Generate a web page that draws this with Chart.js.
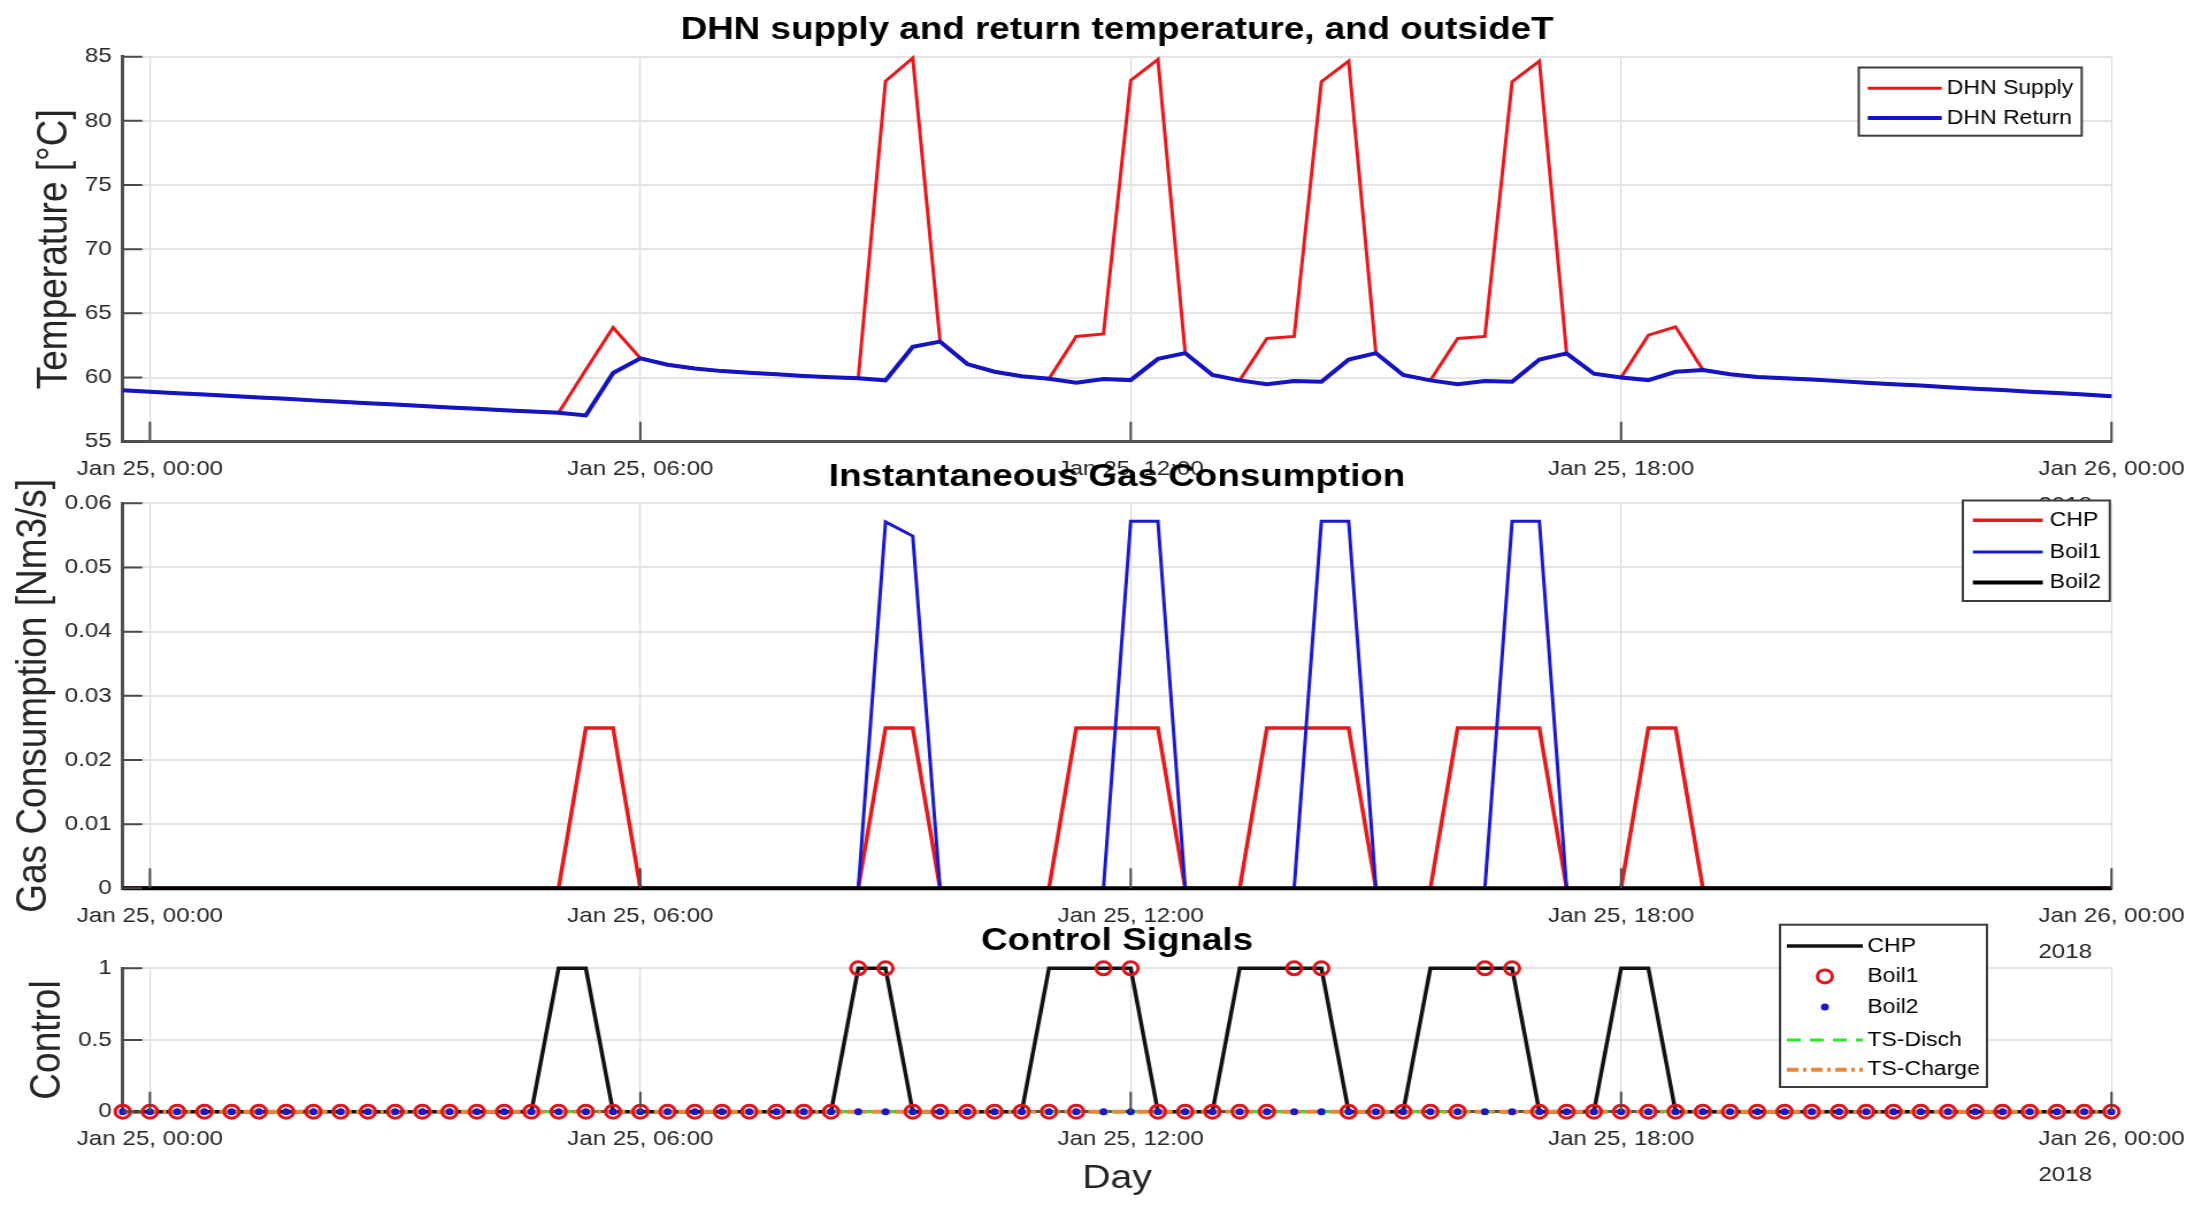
<!DOCTYPE html>
<html>
<head>
<meta charset="utf-8">
<title>DHN supply and return temperature</title>
<script src="https://cdn.jsdelivr.net/npm/chart.js@4.4.1/dist/chart.umd.min.js"></script>
<style>
  html, body { margin: 0; padding: 0; background: #fff; overflow: hidden; }
  #wrap { position: relative; width: 2202px; height: 1205px; overflow: hidden; }
  /* the source picture is stretched sideways, so the charts are drawn narrow and widened */
  #wrap canvas { position: absolute; left: 0; top: 0; transform-origin: 0 0; transform: scaleX(1.14987); }
</style>
</head>
<body>
<div id="wrap">
  <canvas id="tempChart" width="1915" height="1205"></canvas>
  <canvas id="gasChart" width="1915" height="1205"></canvas>
  <canvas id="ctrlChart" width="1915" height="1205"></canvas>
</div>
<script>
// sample times, minutes after Jan 25 00:00 (20 min steps)
const sampleMinutes = [
  -20, 0, 20, 40, 60, 80, 100, 120, 140, 160,
  180, 200, 220, 240, 260, 280, 300, 320, 340, 360,
  380, 400, 420, 440, 460, 480, 500, 520, 540, 560,
  580, 600, 620, 640, 660, 680, 700, 720, 740, 760,
  780, 800, 820, 840, 860, 880, 900, 920, 940, 960,
  980, 1000, 1020, 1040, 1060, 1080, 1100, 1120, 1140, 1160,
  1180, 1200, 1220, 1240, 1260, 1280, 1300, 1320, 1340, 1360,
  1380, 1400, 1420, 1440
];

const tickHours = [0, 6, 12, 18, 24];
const tickLabels = ["Jan 25, 00:00", "Jan 25, 06:00", "Jan 25, 12:00", "Jan 25, 18:00", "Jan 26, 00:00"];
const yearText = "2018";

// DHN temperatures [°C]
const supplyT = [
  59.0, 58.9, 58.78, 58.67, 58.56, 58.45, 58.34, 58.22, 58.11, 58.0,
  57.89, 57.78, 57.67, 57.56, 57.45, 57.35, 57.25, 60.6, 63.9, 61.5,
  61.0, 60.7, 60.5, 60.38, 60.25, 60.12, 60.02, 59.95, 83.1, 84.9,
  62.85, 61.05, 60.45, 60.1, 59.9, 63.2, 63.4, 83.15, 84.8, 61.9,
  60.2, 59.78, 63.05, 63.2, 83.05, 84.65, 61.9, 60.2, 59.78, 63.05,
  63.2, 83.05, 84.65, 61.88, 60.3, 60.0, 63.3, 63.95, 60.6, 60.25,
  60.05, 59.95, 59.85, 59.72, 59.6, 59.48, 59.37, 59.25, 59.13, 59.02,
  58.9, 58.79, 58.67, 58.55
];
const returnT = [
  59.0, 58.9, 58.78, 58.67, 58.56, 58.45, 58.34, 58.22, 58.11, 58.0,
  57.89, 57.78, 57.67, 57.56, 57.45, 57.35, 57.25, 57.05, 60.35, 61.5,
  61.0, 60.7, 60.5, 60.38, 60.25, 60.12, 60.02, 59.95, 59.78, 62.4,
  62.8, 61.05, 60.45, 60.1, 59.9, 59.6, 59.88, 59.8, 61.45, 61.9,
  60.2, 59.78, 59.47, 59.73, 59.68, 61.4, 61.9, 60.2, 59.78, 59.47,
  59.73, 59.68, 61.4, 61.88, 60.3, 60.0, 59.8, 60.45, 60.58, 60.25,
  60.05, 59.95, 59.85, 59.72, 59.6, 59.48, 59.37, 59.25, 59.13, 59.02,
  58.9, 58.79, 58.67, 58.55
];

// gas consumption [Nm3/s]
const gasCHP = [
  0, 0, 0, 0, 0, 0, 0, 0, 0, 0,
  0, 0, 0, 0, 0, 0, 0, 0.025, 0.025, 0,
  0, 0, 0, 0, 0, 0, 0, 0, 0.025, 0.025,
  0, 0, 0, 0, 0, 0.025, 0.025, 0.025, 0.025, 0,
  0, 0, 0.025, 0.025, 0.025, 0.025, 0, 0, 0, 0.025,
  0.025, 0.025, 0.025, 0, 0, 0, 0.025, 0.025, 0, 0,
  0, 0, 0, 0, 0, 0, 0, 0, 0, 0,
  0, 0, 0, 0
];
const gasBoil1 = [
  0, 0, 0, 0, 0, 0, 0, 0, 0, 0,
  0, 0, 0, 0, 0, 0, 0, 0, 0, 0,
  0, 0, 0, 0, 0, 0, 0, 0, 0.0571, 0.0549,
  0, 0, 0, 0, 0, 0, 0, 0.0572, 0.0572, 0,
  0, 0, 0, 0, 0.0572, 0.0572, 0, 0, 0, 0,
  0, 0.0572, 0.0572, 0, 0, 0, 0, 0, 0, 0,
  0, 0, 0, 0, 0, 0, 0, 0, 0, 0,
  0, 0, 0, 0
];
const gasBoil2 = [
  0, 0, 0, 0, 0, 0, 0, 0, 0, 0, 0, 0, 0, 0, 0, 0, 0, 0, 0, 0,
  0, 0, 0, 0, 0, 0, 0, 0, 0, 0, 0, 0, 0, 0, 0, 0, 0, 0, 0, 0,
  0, 0, 0, 0, 0, 0, 0, 0, 0, 0, 0, 0, 0, 0, 0, 0, 0, 0, 0, 0,
  0, 0, 0, 0, 0, 0, 0, 0, 0, 0, 0, 0, 0, 0
];

// control signals
const ctrlCHP = [
  0, 0, 0, 0, 0, 0, 0, 0, 0, 0,
  0, 0, 0, 0, 0, 0, 1, 1, 0, 0,
  0, 0, 0, 0, 0, 0, 0, 1, 1, 0,
  0, 0, 0, 0, 1, 1, 1, 1, 0, 0,
  0, 1, 1, 1, 1, 0, 0, 0, 1, 1,
  1, 1, 0, 0, 0, 1, 1, 0, 0, 0,
  0, 0, 0, 0, 0, 0, 0, 0, 0, 0,
  0, 0, 0, 0
];
const ctrlBoil1 = [
  0, 0, 0, 0, 0, 0, 0, 0, 0, 0,
  0, 0, 0, 0, 0, 0, 0, 0, 0, 0,
  0, 0, 0, 0, 0, 0, 0, 1, 1, 0,
  0, 0, 0, 0, 0, 0, 1, 1, 0, 0,
  0, 0, 0, 1, 1, 0, 0, 0, 0, 0,
  1, 1, 0, 0, 0, 0, 0, 0, 0, 0,
  0, 0, 0, 0, 0, 0, 0, 0, 0, 0,
  0, 0, 0, 0
];
const ctrlBoil2 = [
  0, 0, 0, 0, 0, 0, 0, 0, 0, 0, 0, 0, 0, 0, 0, 0, 0, 0, 0, 0,
  0, 0, 0, 0, 0, 0, 0, 0, 0, 0, 0, 0, 0, 0, 0, 0, 0, 0, 0, 0,
  0, 0, 0, 0, 0, 0, 0, 0, 0, 0, 0, 0, 0, 0, 0, 0, 0, 0, 0, 0,
  0, 0, 0, 0, 0, 0, 0, 0, 0, 0, 0, 0, 0, 0
];
const ctrlTSDisch = [
  0, 0, 0, 0, 0, 0, 0, 0, 0, 0, 0, 0, 0, 0, 0, 0, 0, 0, 0, 0,
  0, 0, 0, 0, 0, 0, 0, 0, 0, 0, 0, 0, 0, 0, 0, 0, 0, 0, 0, 0,
  0, 0, 0, 0, 0, 0, 0, 0, 0, 0, 0, 0, 0, 0, 0, 0, 0, 0, 0, 0,
  0, 0, 0, 0, 0, 0, 0, 0, 0, 0, 0, 0, 0, 0
];
const ctrlTSCharge = [
  0, 0, 0, 0, 0, 0, 0, 0, 0, 0, 0, 0, 0, 0, 0, 0, 0, 0, 0, 0,
  0, 0, 0, 0, 0, 0, 0, 0, 0, 0, 0, 0, 0, 0, 0, 0, 0, 0, 0, 0,
  0, 0, 0, 0, 0, 0, 0, 0, 0, 0, 0, 0, 0, 0, 0, 0, 0, 0, 0, 0,
  0, 0, 0, 0, 0, 0, 0, 0, 0, 0, 0, 0, 0, 0
];

const FONT = "'Liberation Sans', Arial, Helvetica, sans-serif";
const TICK_SIZE = 21;
Chart.defaults.font.family = FONT;
Chart.defaults.color = '#262626';

const hours = sampleMinutes.map(m => m / 60);
const pts = arr => arr.map((v, i) => ({ x: hours[i], y: v }));

// white plot background (like matlab axes), hides what lies under it
const whiteArea = {
  id: 'whiteArea',
  beforeDraw(chart) {
    const a = chart.chartArea;
    chart.ctx.save();
    chart.ctx.fillStyle = '#fff';
    chart.ctx.fillRect(a.left, a.top, a.right - a.left, a.bottom - a.top);
    chart.ctx.restore();
  }
};

// tick marks pointing into the plot
const insideTicks = {
  id: 'insideTicks',
  afterDatasetsDraw(chart) {
    const { ctx, chartArea: a, scales: { x, y } } = chart;
    ctx.save();
    ctx.strokeStyle = '#4a4a4a';
    ctx.lineWidth = 2;
    ctx.beginPath();
    x.ticks.forEach(t => {
      const px = x.getPixelForValue(t.value);
      ctx.moveTo(px, a.bottom);
      ctx.lineTo(px, a.bottom - 20);
    });
    y.ticks.forEach(t => {
      const py = y.getPixelForValue(t.value);
      ctx.moveTo(a.left, py);
      ctx.lineTo(a.left + 17, py);
    });
    ctx.stroke();
    ctx.restore();
  }
};

// boxed legend inside the plot
const boxLegend = {
  id: 'boxLegend',
  afterDraw(chart, args, opts) {
    const ctx = chart.ctx;
    const b = opts.box;
    ctx.save();
    ctx.fillStyle = '#fff';
    ctx.fillRect(b.x, b.y, b.w, b.h);
    ctx.strokeStyle = '#3c3c3c';
    ctx.lineWidth = 2;
    ctx.strokeRect(b.x, b.y, b.w, b.h);
    ctx.font = opts.fontSize + 'px ' + FONT;
    ctx.textBaseline = 'middle';
    chart.data.datasets.forEach((ds, i) => {
      const ry = opts.rows[i];
      ctx.save();
      if (ds.showLine !== false) {
        ctx.strokeStyle = ds.borderColor;
        ctx.lineWidth = ds.borderWidth;
        ctx.setLineDash(ds.borderDash || []);
        ctx.beginPath();
        ctx.moveTo(opts.sample[0], ry);
        ctx.lineTo(opts.sample[1], ry);
        ctx.stroke();
      } else {
        const cx = (opts.sample[0] + opts.sample[1]) / 2;
        ctx.beginPath();
        ctx.arc(cx, ry, ds.pointRadius, 0, Math.PI * 2);
        if (ds.pointBorderWidth > 0) {
          ctx.strokeStyle = ds.pointBorderColor;
          ctx.lineWidth = ds.pointBorderWidth;
          ctx.stroke();
        } else {
          ctx.fillStyle = ds.pointBackgroundColor;
          ctx.fill();
        }
      }
      ctx.restore();
      ctx.fillStyle = '#000';
      ctx.fillText(ds.label, opts.textX, ry);
    });
    ctx.restore();
  }
};

// the "2018" under the last date label
const yearLabel = {
  id: 'yearLabel',
  afterDraw(chart) {
    const { ctx, chartArea: a, scales: { x } } = chart;
    ctx.save();
    ctx.font = TICK_SIZE + 'px ' + FONT;
    ctx.fillStyle = '#262626';
    const last = tickLabels.length - 1;
    const w = ctx.measureText(tickLabels[last]).width;
    ctx.fillText(yearText, x.getPixelForValue(tickHours[last]) - w / 2, a.bottom + 69.5);
    ctx.restore();
  }
};

function makeOptions(p) {
  return {
    responsive: false,
    animation: false,
    devicePixelRatio: 1,
    events: [],
    layout: { padding: { left: 0, right: 75.7, top: p.layoutTop, bottom: p.layoutBottom } },
    elements: { line: { tension: 0 }, point: { radius: 0 } },
    plugins: {
      legend: { display: false },
      tooltip: { enabled: false },
      title: {
        display: true, text: p.title, fullSize: false, color: '#000',
        font: { size: 32, weight: 'bold' },
        padding: { top: p.titleTop, bottom: p.titleBottom }
      },
      boxLegend: p.legend
    },
    scales: {
      x: {
        type: 'linear',
        min: hours[0],
        max: hours[hours.length - 1],
        afterBuildTicks: s => { s.ticks = tickHours.map(v => ({ value: v })); },
        afterFit: s => { s.height = p.xHeight; },
        grid: { color: '#dadada', lineWidth: 1.2, drawTicks: false },
        border: { display: true, color: '#505050', width: 3 },
        ticks: {
          autoSkip: false, maxRotation: 0, minRotation: 0, padding: 15.1,
          font: { size: TICK_SIZE }, color: '#262626',
          callback: (v, i) => tickLabels[i]
        },
        title: p.xTitle
          ? { display: true, text: p.xTitle, color: '#262626', font: { size: 34 }, padding: { top: 0, bottom: 6.4 } }
          : { display: false }
      },
      y: {
        min: p.yMin, max: p.yMax,
        afterFit: s => { s.width = 106.7; },
        grid: { color: '#e4e4e4', lineWidth: 2, drawTicks: false },
        border: { display: true, color: '#505050', width: 3 },
        ticks: {
          stepSize: p.yStep, padding: 9.6, font: { size: TICK_SIZE }, color: '#262626',
          callback: v => String(Number(v.toFixed(3)))
        },
        title: { display: true, text: p.yTitle, color: '#262626', font: { size: 37 }, padding: { top: p.yTitlePad, bottom: 0 } }
      }
    }
  };
}

const plugins = [whiteArea, insideTicks, yearLabel, boxLegend];

// 1) supply / return temperature
new Chart(document.getElementById('tempChart'), {
  type: 'line',
  data: {
    datasets: [
      { label: 'DHN Supply', data: pts(supplyT), borderColor: '#e8181c', borderWidth: 3, order: 2, clip: false },
      { label: 'DHN Return', data: pts(returnT), borderColor: '#1414c4', borderWidth: 4, order: 1, clip: false }
    ]
  },
  options: makeOptions({
    title: 'DHN supply and return temperature, and outsideT',
    layoutTop: 0, titleTop: 10.5, titleBottom: 7.8,
    layoutBottom: 703.3, xHeight: 60,
    yTitle: 'Temperature [°C]', yTitlePad: 26, yMin: 55, yMax: 85, yStep: 5,
    legend: {
      box: { x: 1616.5, y: 67.5, w: 193.9, h: 68.2 }, rows: [88.3, 118],
      sample: [1624.3, 1688.7], textX: 1693, fontSize: 20
    }
  }),
  plugins: plugins
});

// 2) gas consumption
new Chart(document.getElementById('gasChart'), {
  type: 'line',
  data: {
    datasets: [
      { label: 'CHP', data: pts(gasCHP), borderColor: '#e41a1c', borderWidth: 3.5, order: 3, clip: false },
      { label: 'Boil1', data: pts(gasBoil1), borderColor: '#1a1acc', borderWidth: 3, order: 2, clip: false },
      { label: 'Boil2', data: pts(gasBoil2), borderColor: '#000', borderWidth: 4, order: 1, clip: false }
    ]
  },
  options: makeOptions({
    title: 'Instantaneous Gas Consumption',
    layoutTop: 458.3, titleTop: 0, titleBottom: 6.6,
    layoutBottom: 256.7, xHeight: 60,
    yTitle: 'Gas Consumption [Nm3/s]', yTitlePad: 7.7, yMin: 0, yMax: 0.06, yStep: 0.01,
    legend: {
      box: { x: 1707, y: 500.5, w: 127.8, h: 100.5 }, rows: [520.2, 552, 582.5],
      sample: [1715.7, 1776.5], textX: 1782.6, fontSize: 20
    }
  }),
  plugins: plugins
});

// 3) control signals
new Chart(document.getElementById('ctrlChart'), {
  type: 'line',
  data: {
    datasets: [
      { label: 'CHP', data: pts(ctrlCHP), borderColor: '#111', borderWidth: 3.5, order: 4, clip: false },
      { label: 'Boil1', data: pts(ctrlBoil1), showLine: false, pointStyle: 'circle', pointRadius: 6.5,
        pointBorderColor: '#e0141c', pointBackgroundColor: 'rgba(0,0,0,0)', pointBorderWidth: 3, order: 2, clip: false },
      { label: 'Boil2', data: pts(ctrlBoil2), showLine: false, pointStyle: 'circle', pointRadius: 3.5,
        pointBorderColor: '#1818c8', pointBackgroundColor: '#1818c8', pointBorderWidth: 0, order: 1, clip: false },
      { label: 'TS-Disch', data: pts(ctrlTSDisch), borderColor: '#2ee82e', borderWidth: 3, borderDash: [12, 8], order: 5, clip: false },
      { label: 'TS-Charge', data: pts(ctrlTSCharge), borderColor: '#ef8636', borderWidth: 4, borderDash: [10, 4, 3, 4], order: 3, clip: false }
    ]
  },
  options: makeOptions({
    title: 'Control Signals',
    layoutTop: 922.1, titleTop: 0, titleBottom: 7.8,
    layoutBottom: 0, xHeight: 93.3, xTitle: 'Day',
    yTitle: 'Control', yTitlePad: 19.9, yMin: 0, yMax: 1, yStep: 0.5,
    legend: {
      box: { x: 1548, y: 924.7, w: 180, h: 162.3 }, rows: [946, 976.4, 1007, 1040, 1069.7],
      sample: [1554, 1620], textX: 1624, fontSize: 20
    }
  }),
  plugins: plugins
});
</script>
</body>
</html>
